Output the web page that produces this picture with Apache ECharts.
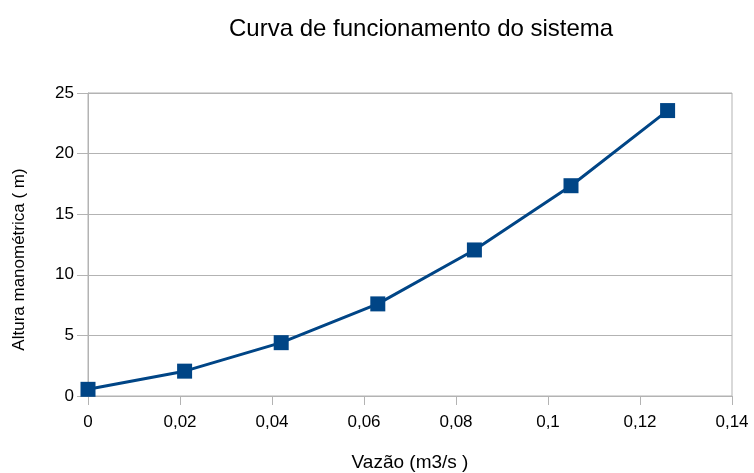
<!DOCTYPE html>
<html>
<head>
<meta charset="utf-8">
<script src="https://cdn.jsdelivr.net/npm/echarts@6/dist/echarts.min.js"></script>
<style>
  html, body { margin: 0; padding: 0; background: #fff; }
  #chart { width: 754px; height: 473px; }
</style>
</head>
<body>
<div id="chart"></div>
<script>
// System curve: flow rate (m3/s) vs. manometric head (m)
const flowRates = [0, 0.021, 0.042, 0.063, 0.084, 0.105, 0.126];
const heads = [0.55, 2.05, 4.4, 7.6, 12.05, 17.35, 23.55];

const titleText = 'Curva de funcionamento do sistema';
const xName = 'Vazão (m3/s )';
const yName = 'Altura manométrica ( m)';

const gridColor = '#b3b3b3';
const lineColor = '#004586';
const font = 'Liberation Sans, Arial, sans-serif';

const chart = echarts.init(document.getElementById('chart'), null, { renderer: 'canvas' });

chart.setOption({
  backgroundColor: '#ffffff',
  animation: false,
  title: {
    text: titleText,
    left: 224,
    top: 12,
    textStyle: { fontFamily: font, fontSize: 24, fontWeight: 'normal', color: '#000' }
  },
  grid: {
    left: 88, right: 22, top: 93, bottom: 77,
    outerBoundsMode: 'none',
    containLabel: false,
    show: true, borderColor: gridColor, borderWidth: 1, backgroundColor: 'transparent'
  },
  xAxis: {
    type: 'value',
    min: 0, max: 0.14, interval: 0.02,
    name: xName,
    nameLocation: 'middle',
    nameGap: 57,
    nameTextStyle: { fontFamily: font, fontSize: 19, color: '#000' },
    axisLine: { show: true, lineStyle: { color: gridColor, width: 1 } },
    axisTick: { show: true, length: 9, lineStyle: { color: gridColor } },
    splitLine: { show: false },
    axisLabel: {
      margin: 18,
      fontFamily: font, fontSize: 17, color: '#000',
      formatter: v => String(Math.round(v * 100) / 100).replace('.', ',')
    }
  },
  yAxis: {
    type: 'value',
    min: 0, max: 25, interval: 5,
    name: yName,
    nameLocation: 'middle',
    nameGap: 60,
    nameTextStyle: { fontFamily: font, fontSize: 17, color: '#000', padding: [0, 30, 0, 0] },
    axisLine: { show: true, lineStyle: { color: gridColor, width: 1 } },
    axisTick: { show: true, length: 11, lineStyle: { color: gridColor } },
    splitLine: { show: true, lineStyle: { color: gridColor, width: 1 } },
    axisLabel: { margin: 14, fontFamily: font, fontSize: 17, color: '#000' }
  },
  series: [{
    type: 'line',
    data: flowRates.map((x, i) => [x, heads[i]]),
    symbol: 'rect',
    symbolSize: 15,
    lineStyle: { color: lineColor, width: 3 },
    itemStyle: { color: lineColor },
    z: 3
  }]
});
</script>
</body>
</html>
